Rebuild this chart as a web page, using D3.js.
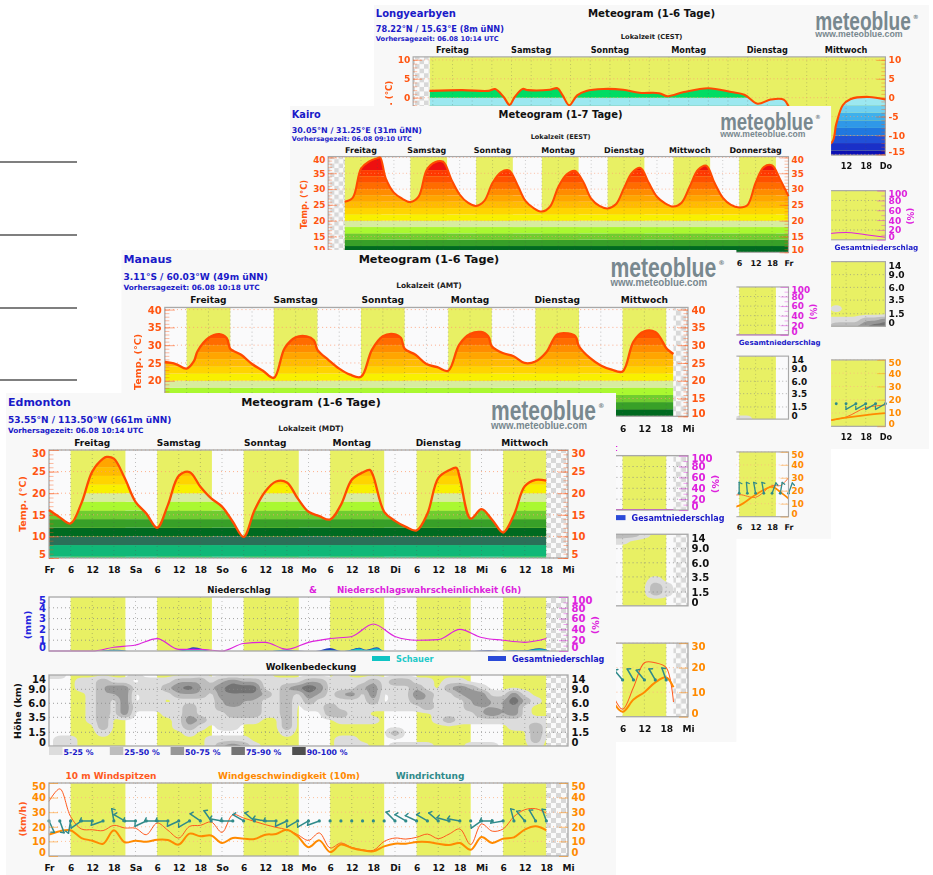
<!DOCTYPE html>
<html lang="de">
<head>
<meta charset="utf-8">
<title>Meteogramme</title>
<script src="https://cdn.jsdelivr.net/npm/d3@7"></script>
<style>
  html, body { margin: 0; background: #fff; }
  svg { display: block; filter: blur(0.3px); font-family: "DejaVu Sans", sans-serif; font-weight: bold; }
</style>
</head>
<body>
<svg id="chart" width="933" height="875"></svg>
<script>
// temperature colour bands, edges in degrees, colours bottom to top
const tempBandEdges = [-16, -14, -12, -10, -8, -6, -4, -2, 0, 5.3, 8, 10, 12, 14, 16, 18, 20, 22, 24, 26, 28, 30, 32, 34, 36, 40, 45];
const tempBandColors = ["#0a0fb4", "#1a30c8", "#2050d8", "#2078e0", "#2f98e8", "#3fb0ec", "#70d0f0", "#9ce8f0", "#00dc64", "#10b878", "#2a7058", "#006a20", "#38a028", "#70cc30", "#aaf830", "#d8eca0", "#f8f000", "#ffd400", "#ffbc00", "#ffa500", "#ff8c00", "#ff6c00", "#ff5000", "#ff3800", "#ee1010", "#e0206a"];

const cloudHeights = [0, 1.5, 3.5, 6, 9, 14];
const cloudThresholds = [5, 25, 50, 75, 90];
const cloudColors = ["#dcdcdc", "#bdbdbd", "#979797", "#747474", "#4f4f4f"];
const cloudLegend = ["5-25 %", "25-50 %", "50-75 %", "75-90 %", "90-100 %"];
const cloudDigits = [0, 14, 48, 72, 92, 100];

const pageRules = [162, 235, 308, 380];

// Longyearbyen
const longyearDays = ["Freitag", "Samstag", "Sonntag", "Montag", "Dienstag", "Mittwoch"];
const longyearTicks = ["Fr", "Sa", "So", "Mo", "Di", "Mi", "Do"];
const longyearSun = [[5, 144]];
const longyearTempHours = [5, 15, 23, 25, 27.6, 29.4, 31, 33.4, 35, 41.7, 44, 45.6, 47.6, 50, 52.8, 58, 64, 69, 75, 77.6, 82.6, 90, 97, 101, 105, 109, 113, 114.6, 120, 127.5, 129, 131, 133.3, 139, 144];
const longyearTemp = [1.8, 2, 1.8, 2.3, 0.2, -1.9, 0.2, 2.3, 2, 2.1, 2.5, 0.6, -2, 0.6, 1.8, 2.3, 2.1, 1.3, 1.2, 0.4, 1.5, 2.5, 1.5, 0.8, -1.6, -0.5, -0.5, -2.5, -13, -12, -7, -2, -0.4, 0.2, -0.5];
const longyearProbHours = [126, 132, 138, 144];
const longyearProb = [12, 15, 10, 5];
const longyearCloud = [
  "0000000", "0000000", "0000000", "0000000", "0000000", "0000000",
  "0000000", "0000000", "0100000", "0000000", "1111223", "1222344"
];
const longyearWindHours = [126, 132, 138, 144];
const longyearSpeed = [4, 6.5, 8.5, 10];
const longyearGust = [4, 7, 14, 16];
const longyearDirHours = [129, 132, 135, 138, 141, 144];
const longyearDir = [null, null, 240, 240, 240, 240];

// Kairo
const kairoDays = ["Freitag", "Samstag", "Sonntag", "Montag", "Dienstag", "Mittwoch", "Donnerstag"];
const kairoTicks = ["Fr", "Sa", "So", "Mo", "Di", "Mi", "Do", "Fr"];
const kairoSun = [[6, 19.4], [30, 43.4], [54, 67.4], [78, 91.4], [102, 115.4], [126, 139.4], [150, 163.4]];
const kairoTempHours = [6, 9, 12, 15, 18, 19, 21, 24, 27, 30, 33, 36, 39, 42, 45, 48, 51, 54, 57, 60, 63, 66, 69, 72, 75, 78, 81, 84, 87, 90, 93, 96, 99, 102, 105, 108, 111, 114, 117, 120, 123, 126, 129, 132, 135, 138, 141, 144, 147, 150, 153, 156, 159, 162, 165, 168];
const kairoTemp = [26, 27.3, 36.5, 38.8, 39.8, 40, 33.5, 28.9, 27, 25.9, 27.6, 36.1, 38.5, 38.6, 33, 28.3, 25.7, 24.7, 26.3, 32, 35.3, 35.9, 31.5, 26.3, 24, 22.9, 24.5, 30.7, 34.6, 35.8, 32.5, 27, 24.7, 23.9, 25.2, 30.4, 35.3, 36.7, 32, 27.6, 25.5, 24.5, 25.7, 30.9, 36.1, 37.4, 32, 27.3, 25, 24.2, 24.9, 32, 37, 37.5, 33, 27.8];
const kairoProbHours = [144, 168];
const kairoProb = [0, 0];
const kairoCloud = [
  "000000000", "000000000", "000000000", "000000000", "000000000", "000000000",
  "000000000", "000000000", "000000000", "000000000", "000000000", "001100000"
];
const kairoWindHours = [144, 150, 156, 162, 165, 168];
const kairoSpeed = [6, 8.5, 17, 23, 19, 14];
const kairoGust = [14, 17, 15, 24, 24, 30];
const kairoDirHours = [150, 153, 156, 159, 162, 165, 168];
const kairoDir = [0, 355, 350, 350, 20, 10, 20];

// Manaus
const manausDays = ["Freitag", "Samstag", "Sonntag", "Montag", "Dienstag", "Mittwoch"];
const manausTicks = ["Fr", "Sa", "So", "Mo", "Di", "Mi", "Mi"];
const manausSun = [[6, 18], [30, 42], [54, 66], [78, 90], [102, 114], [126, 138]];
const manausTempHours = [0, 3, 6, 8, 9, 12, 15, 17, 18, 19, 21, 24, 27, 30, 33, 36, 39, 41, 42, 45, 48, 51, 54, 57, 60, 63, 65, 66, 69, 72, 75, 78, 81, 84, 87, 89, 90, 93, 96, 99, 102, 105, 108, 111, 113, 114, 117, 120, 123, 126, 129, 132, 135, 137, 138, 140];
const manausTemp = [25.3, 24.7, 23.4, 25.5, 28.3, 32, 33.1, 32, 29, 28.3, 27.3, 24.7, 22.8, 20.8, 29.2, 32.2, 32.5, 31.4, 28.7, 25.9, 23.4, 21.7, 21.1, 28.7, 32.5, 33.1, 32, 29, 27.3, 24.7, 23.8, 22.8, 30.1, 33.1, 33.7, 32.5, 29.7, 27.8, 26.9, 25, 25.4, 28, 33, 33.3, 32.5, 29.7, 26.4, 24.3, 23.1, 22.6, 31, 33.9, 33.7, 31, 29.2, 27.5];
const manausProbHours = [120, 140];
const manausProb = [1, 1];
const manausCloud = [
  "2221000", "1100000", "0000000", "0000000", "0000000", "0000000",
  "0000000", "0000100", "0000210", "0000210", "0000000", "0000000"
];
const manausWindHours = [123, 126, 129, 132, 135, 138, 140];
const manausSpeed = [7, 2, 7, 10, 14, 16, 12];
const manausGust = [10, 3, 12, 22, 22, 20, 6];
const manausDirHours = [123, 126, 129, 132, 135, 138];
const manausDir = [330, 320, 330, 320, 330, 340];

// Edmonton
const edmontonDays = ["Freitag", "Samstag", "Sonntag", "Montag", "Dienstag", "Mittwoch"];
const edmontonTicks = ["Fr", "Sa", "So", "Mo", "Di", "Mi", "Mi"];
const edmontonSun = [[6, 21.2], [30, 45.2], [54, 69.3], [78, 93], [102, 117], [126, 138]];
const edmontonTempHours = [0, 3, 6, 9, 12, 15, 16, 18, 21, 24, 27, 30, 33, 36, 39, 42, 45, 48, 51, 54, 57, 60, 63, 66, 69, 72, 75, 78, 81, 84, 87, 89, 90, 93, 96, 99, 102, 105, 108, 111, 113, 114, 117, 120, 123, 126, 129, 132, 135, 138];
const edmontonTemp = [16.1, 14.4, 13, 17.7, 25, 28, 28.4, 28, 23.5, 18, 15.3, 12, 17.3, 24, 24.9, 21.5, 18.8, 16.9, 13.4, 9.9, 16, 20.4, 22.7, 22.5, 18.8, 15.7, 14.7, 13.9, 17.3, 23.1, 24.8, 25.4, 23.9, 15.7, 13.6, 12.2, 11.4, 15.3, 23.5, 25.3, 25.9, 23.5, 14.1, 16.3, 13.8, 10.9, 15, 21.6, 23.1, 22.9];
const edmontonProbHours = [0, 6, 12, 18, 24, 30, 36, 42, 48, 54, 60, 66, 72, 78, 84, 90, 96, 102, 108, 114, 120, 126, 132, 138];
const edmontonProb = [0, 0, 0, 7, 11, 23, 3, 3, 0, 14, 16, 3, 16, 23, 27, 50, 27, 20, 21, 40, 25, 20, 16, 23];
const edmontonPrecipHours = [14, 18, 20, 22, 34, 38, 40, 43, 45, 62, 65, 68, 71, 74, 78, 81, 83, 86, 88, 91, 93, 118, 122, 125, 129, 132, 136, 139];
const edmontonTotal = [0, 0.12, 0.1, 0, 0, 0.15, 0.35, 0.15, 0, 0, 0.12, 0.05, 0, 0, 0.28, 0, 0.05, 0.3, 0.12, 0.35, 0, 0, 0.06, 0, 0.08, 0.05, 0.25, 0];
const edmontonShower = [0, 0.07, 0.05, 0, 0, 0.08, 0.2, 0.08, 0, 0, 0.06, 0, 0, 0, 0.08, 0, 0.02, 0.22, 0.06, 0.25, 0, 0, 0, 0, 0.05, 0.02, 0.18, 0];
const edmontonCloud = [
  "11000000" + "10000010" + "00001000" + "00010000" + "00000000" + "0000000",
  "00011211" + "01112221" + "23221111" + "22111121" + "22110110" + "0000000",
  "00011233" + "11123422" + "34441123" + "53111231" + "11210232" + "1000000",
  "00001223" + "01112221" + "33332121" + "32123130" + "11321123" + "3113100",
  "00001213" + "01101111" + "23221120" + "21111120" + "11220112" + "3225210",
  "00001213" + "11111211" + "22221120" + "11211111" + "11121112" + "2223100",
  "00001213" + "00011211" + "12221120" + "00221100" + "00001111" + "2323100",
  "00001200" + "00001321" + "11110020" + "00011110" + "00001211" + "1111111",
  "00000200" + "00001210" + "11000020" + "00000000" + "00000000" + "0001121",
  "00000100" + "00000100" + "00000010" + "00000000" + "20000000" + "0000021",
  "01100000" + "00000001" + "11100000" + "00011000" + "00000000" + "0000020",
  "01100000" + "00000001" + "23210000" + "00011100" + "11110001" + "1100010"
];
const edmontonSpeed = [14.6, 17, 17.6, 12.3, 10.5, 8.4, 17.6, 9.4, 10.5, 9.8, 11.2, 11, 7.8, 15.3, 13.5, 14, 8.9, 12.3, 11.9, 11.6, 14.6, 15, 18, 13.5, 6, 10.7, 2.7, 7.8, 5.5, 3.9, 3.2, 6.6, 8.4, 8.4, 9.6, 9.6, 8.4, 7.5, 8.9, 4.3, 13, 8.9, 11.9, 12.8, 18, 20.3, 17.6];
const edmontonGust = [37.4, 46, 27, 18.5, 18, 17.4, 21, 19.2, 19, 14.6, 22.6, 17.6, 12.3, 20.3, 21, 23.3, 16.2, 28.3, 26, 23.7, 21.5, 19.6, 18, 14.6, 10.7, 15.8, 5.5, 8.9, 5.9, 4.3, 3.9, 10, 12.3, 11.6, 12.8, 15, 11.9, 15, 18.5, 7.8, 21.9, 17, 18.5, 27, 31.7, 32.4, 29.4];
const edmontonDir = [155, 160, 190, 235, 270, 250, 350, 300, 270, 245, 270, 270, 245, 240, 305, 325, 280, 270, 300, 310, 280, 270, 245, 240, 240, 250, null, null, null, null, null, null, 315, 300, 295, 300, 310, 285, 280, null, 235, 270, 260, 345, 320, 330, 340];

class Meteogram {
  constructor(options) {
    Object.assign(this, options);
    this.id = this.name.toLowerCase();
    this.setup();
    this.drawHeader();
    this.drawTemperature();
    this.drawPrecipitation();
    this.drawClouds();
    this.drawWind();
  }

  setup() {
    this.width = 610;
    this.height = 488;
    this.left = 43;
    this.right = 562;
    this.tempBox = [57, 165];
    this.probBox = [204, 258];
    this.cloudBox = [282, 353];
    this.windBox = [390, 463];
    this.smooth = d3.curveCatmullRom.alpha(0.5);
    this.x = d3.scaleLinear([0, this.ticks.length * 24 - 24], [this.left, this.right]);
    this.g = this.svg
      .append("g")
      .attr("id", this.id)
      .attr("transform", `translate(${this.at[0]},${this.at[1]}) scale(${this.scale})`);
    this.card = this.g
      .append("rect")
      .attr("width", this.width)
      .attr("height", this.height)
      .attr("fill", "#f8f8f8");
  }

  label(text, x, y, size, color, anchor = "start") {
    return this.g
      .append("text")
      .attr("x", x)
      .attr("y", y)
      .attr("font-size", size)
      .attr("fill", color)
      .attr("text-anchor", anchor)
      .text(text);
  }

  sideLabel(text, x, y, color, rotate, size = 10) {
    return this.g
      .append("text")
      .attr("transform", `translate(${x},${y}) rotate(${rotate})`)
      .attr("font-size", size)
      .attr("fill", color)
      .attr("text-anchor", "middle")
      .text(text);
  }

  drawHeader() {
    const blue = "#1a1ac8";
    this.label(this.name, 2, 13, 11, blue);
    this.label(this.coords, 2, 30, 9, blue);
    this.label(`Vorhersagezeit: ${this.issued}`, 2, 40, 7.3, blue);
    this.label(this.title, 305, 13, 11.2, "#111", "middle");
    this.label(`Lokalzeit (${this.zone})`, 305, 37.5, 7.4, "#222", "middle");
    this.g
      .append("text")
      .attr("x", 485)
      .attr("y", 27)
      .attr("font-size", 28)
      .attr("fill", "#78888f")
      .style("font-family", "'Liberation Sans Narrow', 'Liberation Sans', sans-serif")
      .attr("textLength", 105)
      .attr("lengthAdjust", "spacingAndGlyphs")
      .text("meteoblue");
    this.label("®", 592, 15, 6.5, "#78888f");
    this.g
      .append("text")
      .attr("x", 485)
      .attr("y", 35.5)
      .attr("font-size", 10)
      .attr("fill", "#78888f")
      .style("font-family", "'Liberation Sans', sans-serif")
      .attr("textLength", 96)
      .attr("lengthAdjust", "spacingAndGlyphs")
      .text("www.meteoblue.com");

    this.g
      .selectAll(".day")
      .data(this.days)
      .join("text")
      .attr("class", "day")
      .attr("x", (d, i) => this.x(12 + i * 24))
      .attr("y", 52.5)
      .attr("font-size", 9)
      .attr("fill", "#111")
      .attr("text-anchor", "middle")
      .text((d) => d);
  }

  // panel background with the yellow daylight spans
  panel(box) {
    const [top, bottom] = box;
    const panel = this.g.append("g");
    panel
      .append("rect")
      .attr("x", this.left)
      .attr("y", top)
      .attr("width", this.right - this.left)
      .attr("height", bottom - top)
      .attr("fill", "#fafafb");
    panel
      .selectAll(".sun")
      .data(this.sun)
      .join("rect")
      .attr("class", "sun")
      .attr("x", (d) => this.x(d[0]))
      .attr("width", (d) => this.x(d[1]) - this.x(d[0]))
      .attr("y", top)
      .attr("height", bottom - top)
      .attr("fill", "#e8f064");
  }

  // checker for hours without data, dotted grid
  overlay(box, valueScale, gridValues, gridColor) {
    const [top, bottom] = box;
    const over = this.g.append("g");
    const total = this.x.domain()[1];
    [[0, this.dataRange[0]], [this.dataRange[1], total]]
      .filter((d) => d[1] > d[0])
      .forEach((d) => {
        over
          .append("rect")
          .attr("x", this.x(d[0]))
          .attr("width", this.x(d[1]) - this.x(d[0]))
          .attr("y", top)
          .attr("height", bottom - top)
          .attr("fill", "url(#checker)");
      });
    over
      .selectAll(".vgrid")
      .data(d3.range(6, total, 6))
      .join("line")
      .attr("class", "vgrid")
      .attr("x1", (d) => this.x(d))
      .attr("x2", (d) => this.x(d))
      .attr("y1", top)
      .attr("y2", bottom)
      .attr("stroke", "#555")
      .attr("stroke-opacity", 0.45)
      .attr("stroke-width", 0.8)
      .attr("stroke-dasharray", "1 3");
    over
      .selectAll(".hgrid")
      .data(gridValues)
      .join("line")
      .attr("class", "hgrid")
      .attr("x1", this.left)
      .attr("x2", this.right)
      .attr("y1", (d) => valueScale(d))
      .attr("y2", (d) => valueScale(d))
      .attr("stroke", gridColor)
      .attr("stroke-width", 0.8)
      .attr("stroke-dasharray", "1 3");
  }

  frame(box) {
    this.g
      .append("rect")
      .attr("x", this.left)
      .attr("y", box[0])
      .attr("width", this.right - this.left)
      .attr("height", box[1] - box[0])
      .attr("fill", "none")
      .attr("stroke", "#a8a8a8")
      .attr("stroke-width", 1.3);
  }

  // labelled axis outside the panel with its ticks pointing inward
  axis(side, scale, values, color, box, inner = 8, format = (d) => d) {
    const make = side === "left" ? d3.axisLeft : d3.axisRight;
    const gx = side === "left" ? this.left : this.right;
    const axis = this.g
      .append("g")
      .attr("transform", `translate(${gx},0)`)
      .call(
        make(scale)
          .tickValues(values)
          .tickSizeInner(-inner)
          .tickSizeOuter(0)
          .tickPadding(side === "left" ? 3 : 3.5)
          .tickFormat(format)
      );
    axis.select(".domain").remove();
    axis.selectAll("line").attr("stroke", color).attr("stroke-opacity", 0.5);
    axis
      .selectAll("text")
      .attr("fill", color)
      .attr("font-size", 10)
      .attr("y", (d) => Math.min(Math.max(scale(d), box[0] + 3), box[1] - 3.5) - scale(d));
    axis.attr("font-family", null).attr("font-size", null);
  }

  minorTicks(side, scale, values, color) {
    const make = side === "left" ? d3.axisLeft : d3.axisRight;
    const gx = side === "left" ? this.left : this.right;
    const axis = this.g
      .append("g")
      .attr("transform", `translate(${gx},0)`)
      .call(make(scale).tickValues(values).tickSizeInner(-4.5).tickSizeOuter(0).tickFormat(""));
    axis.select(".domain").remove();
    axis.selectAll("line").attr("stroke", color).attr("stroke-opacity", 0.4);
  }

  hourAxis(y) {
    const axis = this.g
      .append("g")
      .attr("transform", `translate(0,${y})`)
      .call(
        d3
          .axisBottom(this.x)
          .tickValues(d3.range(0, this.x.domain()[1] + 1, 6))
          .tickSize(0)
          .tickPadding(0)
          .tickFormat((h) => (h % 24 ? h % 24 : this.ticks[h / 24]))
      );
    axis.select(".domain").remove();
    axis.selectAll("text").attr("fill", "#111").attr("font-size", 9);
    axis.attr("font-family", null).attr("font-size", null);
  }

  drawTemperature() {
    const [top, bottom] = this.tempBox;
    const y = d3.scaleLinear(this.tempDomain, [bottom, top]);
    const color = "#ff5511";
    const ticks = d3.range(Math.ceil(this.tempDomain[0] / 5) * 5, this.tempDomain[1] + 0.01, 5);
    const minor = d3.range(Math.ceil(this.tempDomain[0]), this.tempDomain[1], 1);
    const series = this.tempHours.map((h, i) => [h, this.temp[i]]);
    const clipId = `temp-clip-${this.id}`;
    const area = d3
      .area()
      .curve(this.smooth)
      .x((d) => this.x(d[0]))
      .y0(bottom)
      .y1((d) => y(d[1]));
    const line = d3
      .line()
      .curve(this.smooth)
      .x((d) => this.x(d[0]))
      .y((d) => y(d[1]));

    this.panel(this.tempBox);
    this.g.append("clipPath").attr("id", clipId).append("path").attr("d", area(series));
    this.g
      .append("g")
      .attr("clip-path", `url(#${clipId})`)
      .selectAll("rect")
      .data(tempBandColors)
      .join("rect")
      .attr("x", this.left)
      .attr("width", this.right - this.left)
      .attr("y", (d, i) => y(tempBandEdges[i + 1]))
      .attr("height", (d, i) => y(tempBandEdges[i]) - y(tempBandEdges[i + 1]))
      .attr("fill", (d) => d);
    this.overlay(this.tempBox, y, ticks, "#ff9a70");
    this.frame(this.tempBox);
    this.minorTicks("left", y, minor, color);
    this.minorTicks("right", y, minor, color);
    this.axis("left", y, ticks, color, this.tempBox, 10);
    this.axis("right", y, ticks, color, this.tempBox, 10);
    this.g
      .append("path")
      .attr("d", line(series))
      .attr("fill", "none")
      .attr("stroke", "#ff4a00")
      .attr("stroke-width", 2.3);
    this.sideLabel("Temp. (°C)", 19.5, 111, color, -90, 9.5);
    this.hourAxis(174);
  }

  drawPrecipitation() {
    const [top, bottom] = this.probBox;
    const mm = d3.scaleLinear([0, 5], [bottom, top]);
    const prob = d3.scaleLinear([0, 100], [bottom, top]);
    const curve = d3.curveMonotoneX;
    const magenta = "#dd22dd";
    const area = d3
      .area()
      .curve(curve)
      .x((d) => this.x(d[0]))
      .y0(bottom)
      .y1((d) => mm(d[1]));

    this.panel(this.probBox);
    this.overlay(this.probBox, mm, [1, 2, 3, 4], "#888");
    if (this.precipHours) {
      const total = this.precipHours.map((h, i) => [h, this.precipTotal[i]]);
      const shower = this.precipHours.map((h, i) => [h, this.precipShower[i]]);
      this.g.append("path").attr("d", area(total)).attr("fill", "#1f3fc0");
      this.g.append("path").attr("d", area(shower)).attr("fill", "#10c4c4");
    }
    this.g
      .append("path")
      .attr(
        "d",
        d3
          .line()
          .curve(curve)
          .x((d, i) => this.x(this.probHours[i]))
          .y((d) => prob(d))(this.prob)
      )
      .attr("fill", "none")
      .attr("stroke", magenta)
      .attr("stroke-width", 1.1);
    this.frame(this.probBox);
    this.minorTicks("right", prob, [10, 30, 50, 70, 90], magenta);
    this.axis("left", mm, [0, 1, 2, 3, 4, 5], "#2222dd", this.probBox, 0);
    this.axis("right", prob, [0, 20, 40, 60, 80, 100], magenta, this.probBox, 9);
    this.sideLabel("(mm)", 25, 232, "#2222dd", -90, 9.5);
    this.sideLabel("(%)", 586, 232, magenta, 90, 9.5);

    this.label("Niederschlag", 233, 199.5, 8.6, "#111", "middle");
    this.label("&", 303, 199.5, 9, magenta);
    this.label(this.probTitle, 331, 199.5, 8.7, magenta);
    this.g
      .append("rect")
      .attr("x", 366)
      .attr("y", 263)
      .attr("width", 18)
      .attr("height", 5)
      .attr("fill", "#10c4c4");
    this.label("Schauer", 390, 269, 8.2, "#20c8c8");
    this.g
      .append("rect")
      .attr("x", 482)
      .attr("y", 263)
      .attr("width", 18)
      .attr("height", 5)
      .attr("fill", "#2a4ad8");
    this.label("Gesamtniederschlag", 506, 269, 8, "#1a1ac8");
  }

  drawClouds() {
    const [top, bottom] = this.cloudBox;
    const y = d3
      .scaleLinear()
      .domain(cloudHeights)
      .range(cloudHeights.map((d, i) => bottom - [0, 13.7, 28.7, 42.7, 56.7, 71][i]));
    const rows = this.cloud.length;
    const cols = this.cloud[0].length;
    // finer grid and a small blur so the contours come out round like the model output
    const fine = 4;
    const field = new Float32Array(cols * fine * rows * fine);
    this.cloud.forEach((row, r) => {
      Array.from(row).forEach((c, k) => {
        for (let j = 0; j < fine; j++) {
          for (let i = 0; i < fine; i++) {
            field[(r * fine + j) * cols * fine + k * fine + i] = cloudDigits[+c];
          }
        }
      });
    });
    d3.blur2({ data: field, width: cols * fine, height: rows * fine }, 0.8);
    const contours = d3.contours().size([cols * fine, rows * fine]).thresholds(cloudThresholds)(field);
    const start = this.cloudStart;
    const rowY = d3.scaleLinear([0, rows - 1], [top, bottom]);
    const x = this.x;
    const path = d3.geoPath(
      d3.geoTransform({
        point(px, py) {
          this.stream.point(x(start + (px / fine - 0.5) * 3), rowY(py / fine - 0.5));
        },
      })
    );
    const clipId = `cloud-clip-${this.id}`;

    this.panel(this.cloudBox);
    this.g
      .append("clipPath")
      .attr("id", clipId)
      .append("rect")
      .attr("x", x(this.dataRange[0]))
      .attr("width", x(this.dataRange[1]) - x(this.dataRange[0]))
      .attr("y", top)
      .attr("height", bottom - top);
    this.g
      .append("g")
      .attr("clip-path", `url(#${clipId})`)
      .selectAll("path")
      .data(contours)
      .join("path")
      .attr("d", path)
      .attr("fill", (d, i) => cloudColors[i]);
    this.overlay(this.cloudBox, y, [1.5, 3.5, 6, 9], "#888");
    this.frame(this.cloudBox);
    const fixed = (d) => (d === 0 || d === 14 ? d : d.toFixed(1));
    this.axis("left", y, cloudHeights, "#111", [top + 1, bottom], 0, fixed);
    this.axis("right", y, cloudHeights, "#111", [top + 1, bottom], 0, fixed);
    this.sideLabel("Höhe (km)", 15, 318, "#111", -90, 9.5);
    this.label("Wolkenbedeckung", 305, 277, 8.8, "#111", "middle");

    this.g
      .selectAll(".cloud-swatch")
      .data(cloudLegend)
      .join("rect")
      .attr("class", "cloud-swatch")
      .attr("x", (d, i) => 43 + i * 60.8)
      .attr("y", 354)
      .attr("width", 13.5)
      .attr("height", 8)
      .attr("fill", (d, i) => cloudColors[i]);
    this.g
      .selectAll(".cloud-key")
      .data(cloudLegend)
      .join("text")
      .attr("class", "cloud-key")
      .attr("x", (d, i) => 57.5 + i * 60.8)
      .attr("y", 361.5)
      .attr("font-size", 7.8)
      .attr("fill", "#1a1ac8")
      .text((d) => d);
  }

  drawWind() {
    const [top, bottom] = this.windBox;
    const y = d3.scaleLinear([0, this.windMax], [bottom, top]);
    const color = "#ff8a00";
    const ticks = d3.range(0, this.windMax + 1, 10);
    const line = d3
      .line()
      .curve(this.smooth)
      .x((d, i) => this.x(this.windHours[i]))
      .y((d) => y(d));

    this.panel(this.windBox);
    this.overlay(this.windBox, y, ticks.slice(1), "#ffb080");
    this.g
      .append("path")
      .attr("d", line(this.gust))
      .attr("fill", "none")
      .attr("stroke", "#ff5a1e")
      .attr("stroke-width", 1);
    this.g
      .append("path")
      .attr("d", line(this.speed))
      .attr("fill", "none")
      .attr("stroke", color)
      .attr("stroke-width", 2);
    this.drawBarbs(y(this.barbLevel));
    this.frame(this.windBox);
    this.axis("left", y, ticks, color, this.windBox, 9);
    this.axis("right", y, ticks, color, this.windBox, 9);
    this.sideLabel("(km/h)", 19.5, 426, "#ff5a1e", -90, 9.5);
    this.label("10 m Windspitzen", 105, 385.5, 9, "#ff5a1e", "middle");
    this.label("Windgeschwindigkeit (10m)", 283, 385.5, 9, color, "middle");
    this.label("Windrichtung", 424, 385.5, 9, "#2f8a8a", "middle");
    this.hourAxis(472);
  }

  // staff points to where the wind comes from, a feather at its far end
  drawBarbs(level) {
    const teal = "#2f8a8a";
    const staff = 12.5;
    const barbs = this.g.append("g").attr("stroke", teal).attr("stroke-linecap", "round");
    this.dirHours.forEach((h, i) => {
      const dir = this.dir[i];
      const x0 = this.x(h);
      barbs.append("circle").attr("cx", x0).attr("cy", level).attr("r", 1.6).attr("fill", teal).attr("stroke", "none");
      if (dir === null) return;
      const a = (dir * Math.PI) / 180;
      const x1 = x0 + Math.sin(a) * staff;
      const y1 = level - Math.cos(a) * staff;
      barbs
        .append("line")
        .attr("x1", x0)
        .attr("y1", level)
        .attr("x2", x1)
        .attr("y2", y1)
        .attr("stroke-width", 1.5);
      barbs
        .append("line")
        .attr("x1", x1)
        .attr("y1", y1)
        .attr("x2", x1 + Math.sin(a + Math.PI * 0.65) * 3.5)
        .attr("y2", y1 - Math.cos(a + Math.PI * 0.65) * 3.5)
        .attr("stroke-width", 1.4);
    });
  }
}

const svg = d3.select("#chart");

svg
  .append("g")
  .selectAll("line")
  .data(pageRules)
  .join("line")
  .attr("x1", 0)
  .attr("x2", 77)
  .attr("y1", (d) => d)
  .attr("y2", (d) => d)
  .attr("stroke", "#000")
  .attr("stroke-width", 1.2);

const checker = svg
  .append("defs")
  .append("pattern")
  .attr("id", "checker")
  .attr("width", 10)
  .attr("height", 10)
  .attr("patternUnits", "userSpaceOnUse");
checker.append("rect").attr("width", 10).attr("height", 10).attr("fill", "#fafafa");
checker.selectAll("rect.cell").data([0, 5]).join("rect").attr("class", "cell").attr("x", (d) => d).attr("y", (d) => d).attr("width", 5).attr("height", 5).attr("fill", "#d8d8d8");

const cards = [
  new Meteogram({
    svg,
    name: "Longyearbyen",
    coords: "78.22°N / 15.63°E (8m üNN)",
    issued: "06.08 10:14 UTC",
    title: "Meteogram (1-6 Tage)",
    zone: "CEST",
    at: [374, 5],
    scale: 0.91,
    days: longyearDays,
    ticks: longyearTicks,
    sun: longyearSun,
    dataRange: [5, 144],
    tempDomain: [-15.2, 10.8],
    tempHours: longyearTempHours,
    temp: longyearTemp,
    probTitle: "Niederschlagswahrscheinlichkeit",
    probHours: longyearProbHours,
    prob: longyearProb,
    cloud: longyearCloud,
    cloudStart: 126,
    windMax: 50,
    windHours: longyearWindHours,
    speed: longyearSpeed,
    gust: longyearGust,
    dirHours: longyearDirHours,
    dir: longyearDir,
    barbLevel: 17,
  }),
  new Meteogram({
    svg,
    name: "Kairo",
    coords: "30.05°N / 31.25°E (31m üNN)",
    issued: "06.08 09:10 UTC",
    title: "Meteogram (1-7 Tage)",
    zone: "EEST",
    at: [290, 106],
    scale: 0.887,
    days: kairoDays,
    ticks: kairoTicks,
    sun: kairoSun,
    dataRange: [6, 168],
    tempDomain: [10, 40.3],
    tempHours: kairoTempHours,
    temp: kairoTemp,
    probTitle: "Niederschlagswahrscheinlichkeit",
    probHours: kairoProbHours,
    prob: kairoProb,
    cloud: kairoCloud,
    cloudStart: 144,
    windMax: 50,
    windHours: kairoWindHours,
    speed: kairoSpeed,
    gust: kairoGust,
    dirHours: kairoDirHours,
    dir: kairoDir,
    barbLevel: 18,
  }),
  new Meteogram({
    svg,
    name: "Manaus",
    coords: "3.11°S / 60.03°W (49m üNN)",
    issued: "06.08 10:18 UTC",
    title: "Meteogram (1-6 Tage)",
    zone: "AMT",
    at: [121.5, 250],
    scale: 1.008,
    days: manausDays,
    ticks: manausTicks,
    sun: manausSun,
    dataRange: [0, 140],
    tempDomain: [10, 40.6],
    tempHours: manausTempHours,
    temp: manausTemp,
    probTitle: "Niederschlagswahrscheinlichkeit",
    probHours: manausProbHours,
    prob: manausProb,
    cloud: manausCloud,
    cloudStart: 123,
    windMax: 30,
    windHours: manausWindHours,
    speed: manausSpeed,
    gust: manausGust,
    dirHours: manausDirHours,
    dir: manausDir,
    barbLevel: 15,
  }),
  new Meteogram({
    svg,
    name: "Edmonton",
    coords: "53.55°N / 113.50°W (661m üNN)",
    issued: "06.08 10:14 UTC",
    title: "Meteogram (1-6 Tage)",
    zone: "MDT",
    at: [6, 393],
    scale: 1,
    days: edmontonDays,
    ticks: edmontonTicks,
    sun: edmontonSun,
    dataRange: [0, 138],
    tempDomain: [5, 30],
    tempHours: edmontonTempHours,
    temp: edmontonTemp,
    probTitle: "Niederschlagswahrscheinlichkeit (6h)",
    probHours: edmontonProbHours,
    prob: edmontonProb,
    precipHours: edmontonPrecipHours,
    precipTotal: edmontonTotal,
    precipShower: edmontonShower,
    cloud: edmontonCloud,
    cloudStart: 0,
    windMax: 50,
    windHours: d3.range(0, 139, 3),
    speed: edmontonSpeed,
    gust: edmontonGust,
    dirHours: d3.range(0, 139, 3),
    dir: edmontonDir,
    barbLevel: 24,
  }),
];

// texts that lie wholly under a card in front of them are not shown, drop them
cards.forEach((card, i) => {
  const front = cards.slice(i + 1).map((c) => c.card.node().getBoundingClientRect());
  card.g.selectAll("text").each(function () {
    const b = this.getBoundingClientRect();
    const hidden = front.some((f) => b.left >= f.left && b.right <= f.right && b.top >= f.top && b.bottom <= f.bottom);
    if (hidden) this.remove();
  });
});
</script>
</body>
</html>
